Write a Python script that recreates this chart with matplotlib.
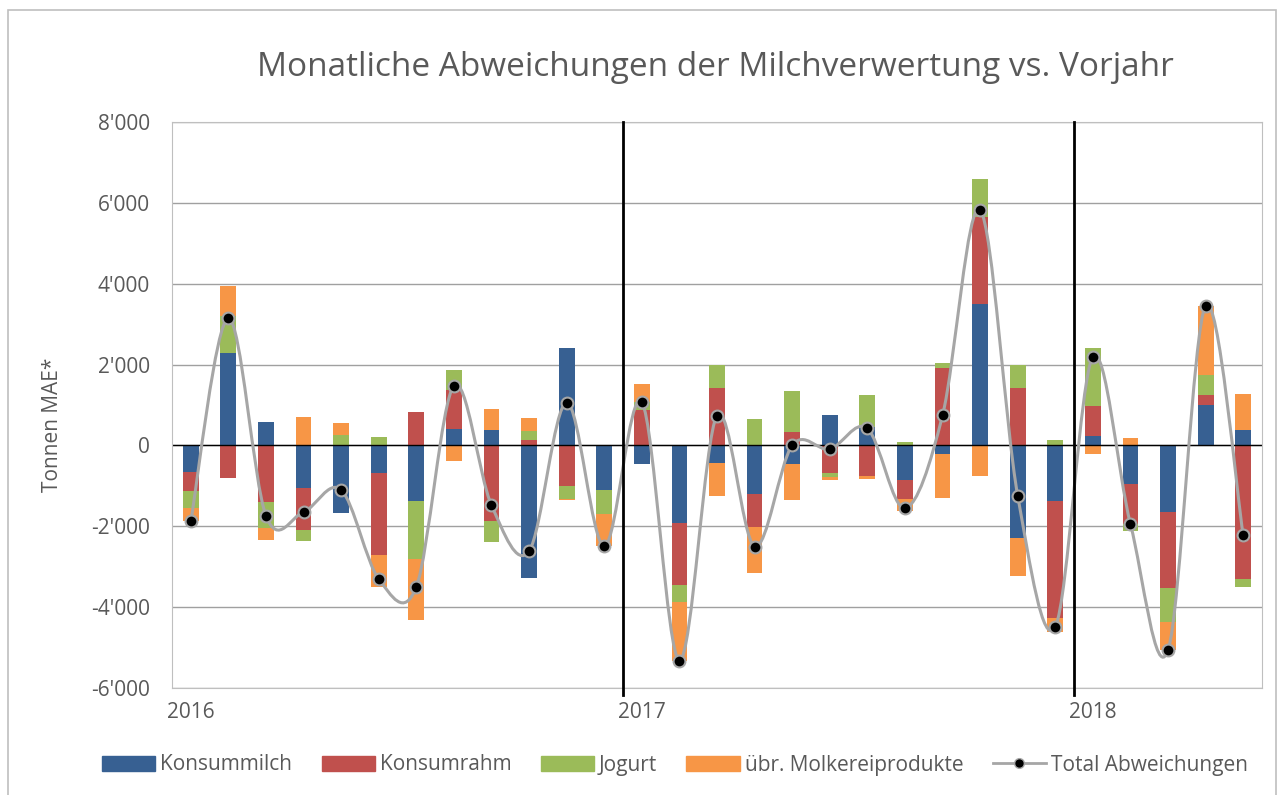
import numpy as np
import matplotlib.pyplot as plt
from matplotlib.path import Path
from matplotlib.patches import PathPatch, Rectangle, Patch
from matplotlib.lines import Line2D
from matplotlib.ticker import FuncFormatter

plt.rcParams['font.family'] = ['Open Sans', 'DejaVu Sans']

# Monate Jan 2016 - Mai 2018, Abweichungen in Tonnen MAE
monate = ['2016-01', '2016-02', '2016-03', '2016-04', '2016-05', '2016-06',
          '2016-07', '2016-08', '2016-09', '2016-10', '2016-11', '2016-12',
          '2017-01', '2017-02', '2017-03', '2017-04', '2017-05', '2017-06',
          '2017-07', '2017-08', '2017-09', '2017-10', '2017-11', '2017-12',
          '2018-01', '2018-02', '2018-03', '2018-04', '2018-05']
konsummilch = [-660, 2280, 590, -1050, -1660, -680, -1375, 410, 370, -3290, 2410, -1095,
               -450, -1910, -430, -1190, -450, 757, 450, -848, -222, 3498, -2280, -1383,
               240, -947, -1646, 1012, 387]
konsumrahm = [-470, -800, -1400, -1045, 0, -2030, 820, 950, -1875, 125, -1005, 0,
              880, -1530, 1425, -823, 330, -683, -765, -485, 1918, 2140, 1424, -2880,
              733, -988, -1877, 240, -3300]
jogurt = [-410, 930, -640, -265, 270, 205, -1430, 510, -510, 230, -320, -600,
          190, -430, 575, 665, 1010, -100, 800, 80, 115, 955, 568, 123,
          1440, -190, -840, 502, -198]
uebrige = [-330, 740, -290, 715, 290, -800, -1515, -395, 535, 320, -25, -800,
           450, -1450, -830, -1152, -890, -65, -65, -300, -1070, -765, -955, -345,
           -222, 181, -700, 1704, 889]
jahre = ['2016', '2017', '2018']
jahr_pos = [0, 12, 24]

serien = [('Konsummilch', konsummilch, '#376092'),
          ('Konsumrahm', konsumrahm, '#C0504D'),
          ('Jogurt', jogurt, '#9BBB59'),
          ('übr. Molkereiprodukte', uebrige, '#F79646')]

grau = '#595959'
fig = plt.figure(figsize=(12.82, 7.95), dpi=100)
ax = fig.add_axes([172/1282, 1-688/795, 1090/1282, 566/795])

x = np.arange(len(monate))
pos_bottom = np.zeros(len(x))
neg_bottom = np.zeros(len(x))
for name, vals, col in serien:
    v = np.array(vals, dtype=float)
    bottom = np.where(v >= 0, pos_bottom, neg_bottom)
    ax.bar(x, v, 0.42, bottom=bottom, color=col, zorder=2)
    pos_bottom += np.where(v >= 0, v, 0)
    neg_bottom += np.where(v < 0, v, 0)

total = np.sum([konsummilch, konsumrahm, jogurt, uebrige], axis=0)

# geglättete Linie (Bezier wie in Excel)
pts = np.column_stack([x, total]).astype(float)
verts = [pts[0]]
codes = [Path.MOVETO]
n = len(pts)
for i in range(n - 1):
    p0 = pts[i - 1] if i > 0 else pts[i]
    p3 = pts[i + 2] if i + 2 < n else pts[i + 1]
    c1 = pts[i] + (pts[i + 1] - p0) / 6
    c2 = pts[i + 1] - (p3 - pts[i]) / 6
    verts += [c1, c2, pts[i + 1]]
    codes += [Path.CURVE4] * 3
ax.add_patch(PathPatch(Path(verts, codes), fill=False, edgecolor='#A6A6A6', lw=2.2, zorder=3))
ax.plot(x, total, ls='none', marker='o', ms=8.5, mfc='black', mec='#A6A6A6', mew=1.5, zorder=4)

ax.set_xlim(-0.5, len(x) - 0.5)
ax.set_ylim(-6000, 8000)
ax.set_yticks(range(-6000, 8001, 2000))
ax.yaxis.set_major_formatter(FuncFormatter(lambda v, p: f"{int(v):,}".replace(',', "'")))
ax.grid(axis='y', color='#A0A0A0', lw=1, zorder=0)
ax.axhline(0, color='black', lw=1, zorder=2.5)
for xv in [11.5, 23.5]:
    ax.axvline(xv, ymin=-0.012, ymax=1, color='black', lw=2, zorder=5, clip_on=False)
ax.set_xticks(jahr_pos)
ax.set_xticklabels(jahre)
ax.tick_params(axis='both', length=0, labelsize=15, labelcolor=grau)
ax.tick_params(axis='x', pad=10)
ax.tick_params(axis='y', pad=16)
for s in ax.spines.values():
    s.set_color('#BFBFBF')
ax.set_ylabel('Tonnen MAE*', fontsize=15, color=grau)
ax.yaxis.set_label_coords(-0.1, 0.465)

fig.text(715/1282, 1-68/795, 'Monatliche Abweichungen der Milchverwertung vs. Vorjahr',
         ha='center', va='center', fontsize=24, color=grau)

handles = [Patch(color=c, label=nm) for nm, v, c in serien]
handles.append(Line2D([], [], color='#A6A6A6', lw=2, marker='o', ms=7, mfc='black',
                      mec='#A6A6A6', label='Total Abweichungen'))
fig.legend(handles=handles, loc='center', bbox_to_anchor=(675/1282, 1-765/795), ncol=5,
           frameon=False, fontsize=15, labelcolor=grau, handlelength=2.55, handleheight=0.75,
           columnspacing=1.4, handletextpad=0.25)

fig.patches.append(Rectangle((8/1282, -0.05), 1268/1282, 1.05-10/795, transform=fig.transFigure,
                             fill=False, edgecolor='#BFBFBF', lw=1.2))

fig.savefig('out.png', dpi=100)
